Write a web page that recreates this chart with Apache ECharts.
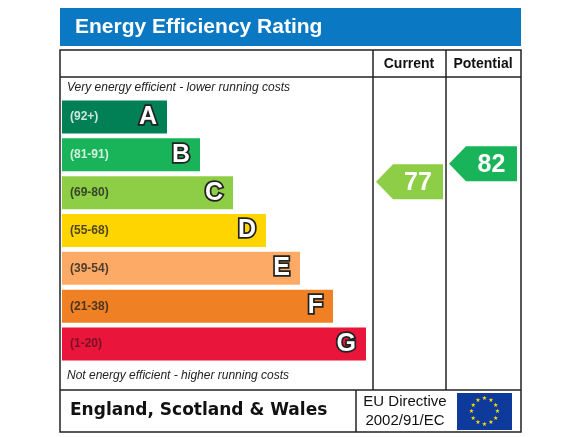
<!DOCTYPE html><html><head><meta charset="utf-8">
<script src="https://cdn.jsdelivr.net/npm/echarts@6/dist/echarts.min.js"></script>
<style>html,body{margin:0;padding:0;background:#fff}#c{width:583px;height:437px}</style></head><body><div id="c"></div>
<script>
const bands=['A','B','C','D','E','F','G'];
const ranges=['(92+)','(81-91)','(69-80)','(55-68)','(39-54)','(21-38)','(1-20)'];
const bandMin=[92,81,69,55,39,21,1];
const barLengths=[105,138,171,204,238,271,304];
const colors=['#008054','#19b459','#8dce46','#ffd500','#fcaa65','#ef8023','#e9153b'];
const rangeColors=['#fff','#fff','#222','#222','#222','#222','#5a1020'];
const currentScore=77, potentialScore=82;
function scoreBand(s){for(let i=0;i<7;i++)if(s>=bandMin[i])return i;return 6;}
const ch=echarts.init(document.getElementById('c'));
function arrow(x0,w,score){
 return {type:'custom',coordinateSystem:'cartesian2d',yAxisIndex:1,data:[[0,score]],z:5,
 renderItem:(p,api)=>{const y=api.coord([0,api.value(1)])[1];const h=35,t=17;
  const c=colors[scoreBand(score)];
  return {type:'group',children:[{type:'polygon',shape:{points:[[x0,y],[x0+t,y-h/2],[x0+w,y-h/2],[x0+w,y+h/2],[x0+t,y+h/2]]},style:{fill:c}},
  {type:'text',style:{text:String(score),x:x0+t+(w-t)/2,y:y+1,align:'center',verticalAlign:'middle',fill:'#fff',font:'bold 25px "Liberation Sans", Arial'}}]};}};
}
ch.setOption({animation:false,
grid:{left:62,top:98,width:308,height:265},
xAxis:{type:'value',min:0,max:308,show:false},
yAxis:[{type:'category',data:bands,inverse:true,show:false},{type:'value',min:26.5,max:100.3,show:false}],
series:[
 {type:'bar',data:barLengths.map((v,i)=>({value:v,itemStyle:{color:colors[i]}})),barWidth:33,
  label:{show:true,position:'insideRight',formatter:p=>p.name,distance:10,color:'#fff',fontSize:25,fontWeight:'bold',fontFamily:'Liberation Sans',textBorderColor:'#222',textBorderWidth:3.5}},
 {type:'scatter',symbolSize:0,data:ranges.map((r,i)=>({value:[3,i],label:{color:rangeColors[i]}})),
  label:{show:true,position:'right',distance:5,formatter:p=>ranges[p.dataIndex],fontSize:12,fontWeight:'bold',fontFamily:'Liberation Sans'}},
 arrow(376,67,currentScore),
 arrow(449,68,potentialScore)
],
graphic:[
 {type:'rect',shape:{x:60,y:8,width:461,height:38},style:{fill:'#0a78c2'}},
 {type:'text',style:{text:'Energy Efficiency Rating',x:75,y:27,verticalAlign:'middle',fill:'#fff',font:'bold 21px "Liberation Sans", Arial'}},
 {type:'rect',shape:{x:60,y:50,width:461,height:382},style:{fill:'none',stroke:'#222',lineWidth:1.5},z:1},
 {type:'line',shape:{x1:373,y1:50,x2:373,y2:390},style:{stroke:'#222',lineWidth:1.5}},
 {type:'line',shape:{x1:446,y1:50,x2:446,y2:390},style:{stroke:'#222',lineWidth:1.5}},
 {type:'line',shape:{x1:60,y1:77,x2:521,y2:77},style:{stroke:'#222',lineWidth:1.5}},
 {type:'line',shape:{x1:60,y1:390,x2:521,y2:390},style:{stroke:'#222',lineWidth:1.5}},
 {type:'line',shape:{x1:356,y1:390,x2:356,y2:432},style:{stroke:'#222',lineWidth:1.5}},
 {type:'text',style:{text:'Current',x:409,y:64,align:'center',verticalAlign:'middle',fill:'#111',font:'bold 14px "Liberation Sans", Arial'}},
 {type:'text',style:{text:'Potential',x:483,y:64,align:'center',verticalAlign:'middle',fill:'#111',font:'bold 14px "Liberation Sans", Arial'}},
 {type:'text',style:{text:'Very energy efficient - lower running costs',x:67,y:88,verticalAlign:'middle',fill:'#222',font:'italic 12px "Liberation Sans", Arial'}},
 {type:'text',style:{text:'Not energy efficient - higher running costs',x:67,y:376,verticalAlign:'middle',fill:'#222',font:'italic 12px "Liberation Sans", Arial'}},
 {type:'text',style:{text:'England, Scotland & Wales',x:70,y:411,verticalAlign:'middle',fill:'#111',font:'bold 17px "DejaVu Sans", Arial'}},
 {type:'text',style:{text:'EU Directive\n2002/91/EC',x:405,y:411,align:'center',verticalAlign:'middle',fill:'#111',font:'15px "Liberation Sans", Arial',lineHeight:19}},
 {type:'rect',shape:{x:457,y:393,width:55,height:37},style:{fill:'#0d3a9b'}},
 ...Array.from({length:12},(_,k)=>{const a=k*Math.PI/6;return {type:'text',style:{text:'★',x:484.5+13*Math.cos(a),y:411.5+13*Math.sin(a),align:'center',verticalAlign:'middle',fill:'#ffdd00',font:'6px "DejaVu Sans"'}};})
]});
</script></body></html>
